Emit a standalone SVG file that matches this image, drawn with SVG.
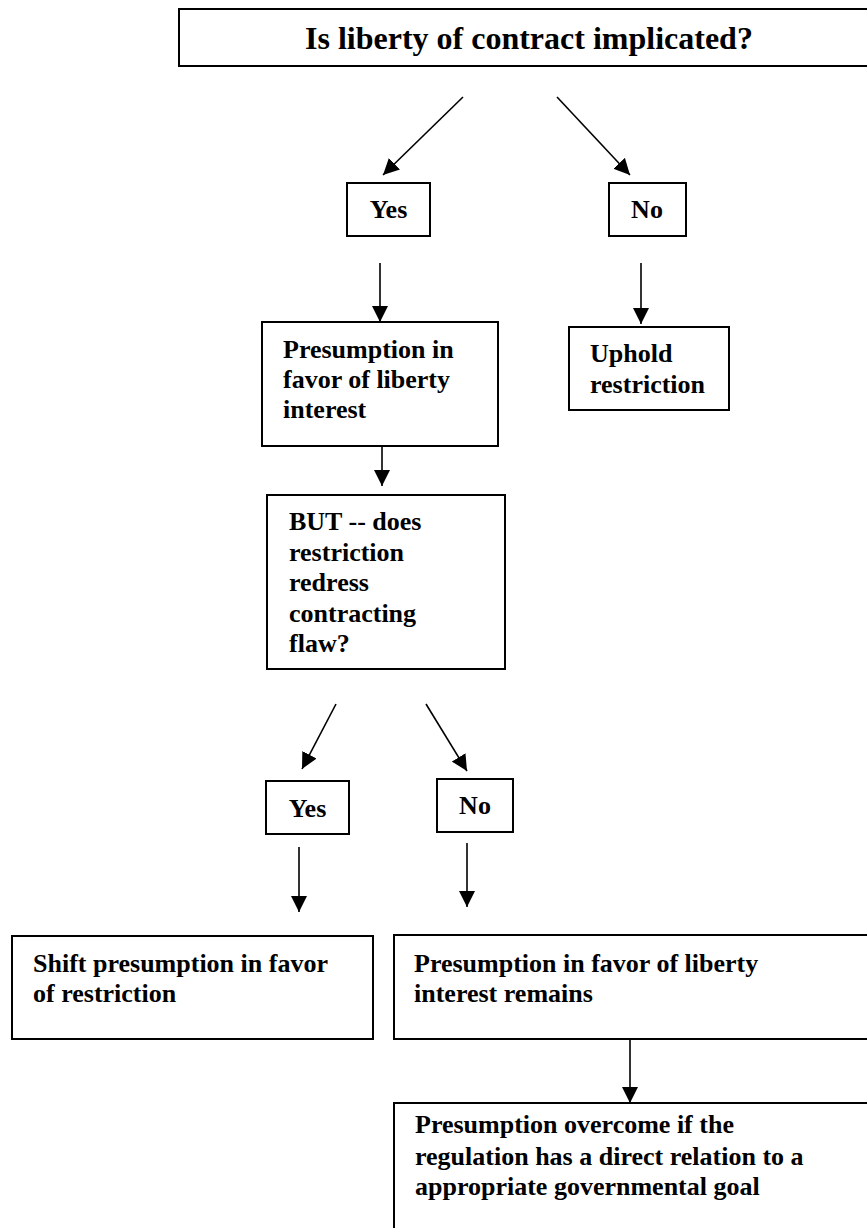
<svg xmlns="http://www.w3.org/2000/svg" width="867" height="1228" viewBox="0 0 867 1228">
<style>
.box{fill:#fff;stroke:#000;stroke-width:2}
.t{font-family:"Liberation Serif","Times New Roman",serif;font-weight:bold;font-size:26px;fill:#000}
.title{font-size:32px}
.c{text-anchor:middle}
.edge{stroke:#000;stroke-width:1.6;fill:none;marker-end:url(#ah)}
</style>
<defs>
<marker id="ah" viewBox="0 0 16 16" refX="16" refY="8" markerWidth="16" markerHeight="16" markerUnits="userSpaceOnUse" orient="auto">
<path d="M0,0 L16,8 L0,16 z" fill="#000"/>
</marker>
</defs>
<rect width="867" height="1228" fill="#fff"/>
<g id="connectors">
<line class="edge" x1="463" y1="97" x2="383" y2="175"/>
<line class="edge" x1="557" y1="97" x2="630" y2="175"/>
<line class="edge" x1="380" y1="263" x2="380" y2="322"/>
<line class="edge" x1="641" y1="263" x2="641" y2="324"/>
<line class="edge" x1="382" y1="446" x2="382" y2="486"/>
<line class="edge" x1="336" y1="704" x2="302" y2="769"/>
<line class="edge" x1="426" y1="704" x2="467" y2="771"/>
<line class="edge" x1="299" y1="847" x2="299" y2="912"/>
<line class="edge" x1="467" y1="843" x2="467" y2="907"/>
<line class="edge" x1="630" y1="1039" x2="630" y2="1103"/>
</g>
<g id="q1">
<rect class="box" x="179" y="9" width="700" height="57"/>
<text class="t title" x="305" y="49">Is liberty of contract implicated?</text>
</g>
<g id="yes1">
<rect class="box" x="347" y="183" width="83" height="53"/>
<text class="t c" x="388.5" y="218">Yes</text>
</g>
<g id="no1">
<rect class="box" x="609" y="183" width="77" height="53"/>
<text class="t c" x="647" y="218">No</text>
</g>
<g id="presumption">
<rect class="box" x="262" y="322" width="236" height="124"/>
<text class="t" x="283" y="358">Presumption in</text>
<text class="t" x="283" y="388">favor of liberty</text>
<text class="t" x="283" y="418">interest</text>
</g>
<g id="uphold">
<rect class="box" x="569" y="327" width="160" height="83"/>
<text class="t" x="590" y="362">Uphold</text>
<text class="t" x="590" y="393">restriction</text>
</g>
<g id="but">
<rect class="box" x="267" y="495" width="238" height="174"/>
<text class="t" x="289" y="530">BUT -- does</text>
<text class="t" x="289" y="561">restriction</text>
<text class="t" x="289" y="591">redress</text>
<text class="t" x="289" y="622">contracting</text>
<text class="t" x="289" y="652">flaw?</text>
</g>
<g id="yes2">
<rect class="box" x="266" y="781" width="83" height="53"/>
<text class="t c" x="307.5" y="817">Yes</text>
</g>
<g id="no2">
<rect class="box" x="437" y="779" width="76" height="53"/>
<text class="t c" x="475" y="814">No</text>
</g>
<g id="shift">
<rect class="box" x="12" y="936" width="361" height="103"/>
<text class="t" x="33" y="972">Shift presumption in favor</text>
<text class="t" x="33" y="1002">of restriction</text>
</g>
<g id="remains">
<rect class="box" x="394" y="935" width="490" height="104"/>
<text class="t" x="414" y="972">Presumption in favor of liberty</text>
<text class="t" x="414" y="1002">interest remains</text>
</g>
<g id="overcome">
<rect class="box" x="394" y="1103" width="490" height="140"/>
<text class="t" x="415" y="1133">Presumption overcome if the</text>
<text class="t" x="415" y="1165">regulation has a direct relation to a</text>
<text class="t" x="415" y="1195">appropriate governmental goal</text>
</g>
</svg>
